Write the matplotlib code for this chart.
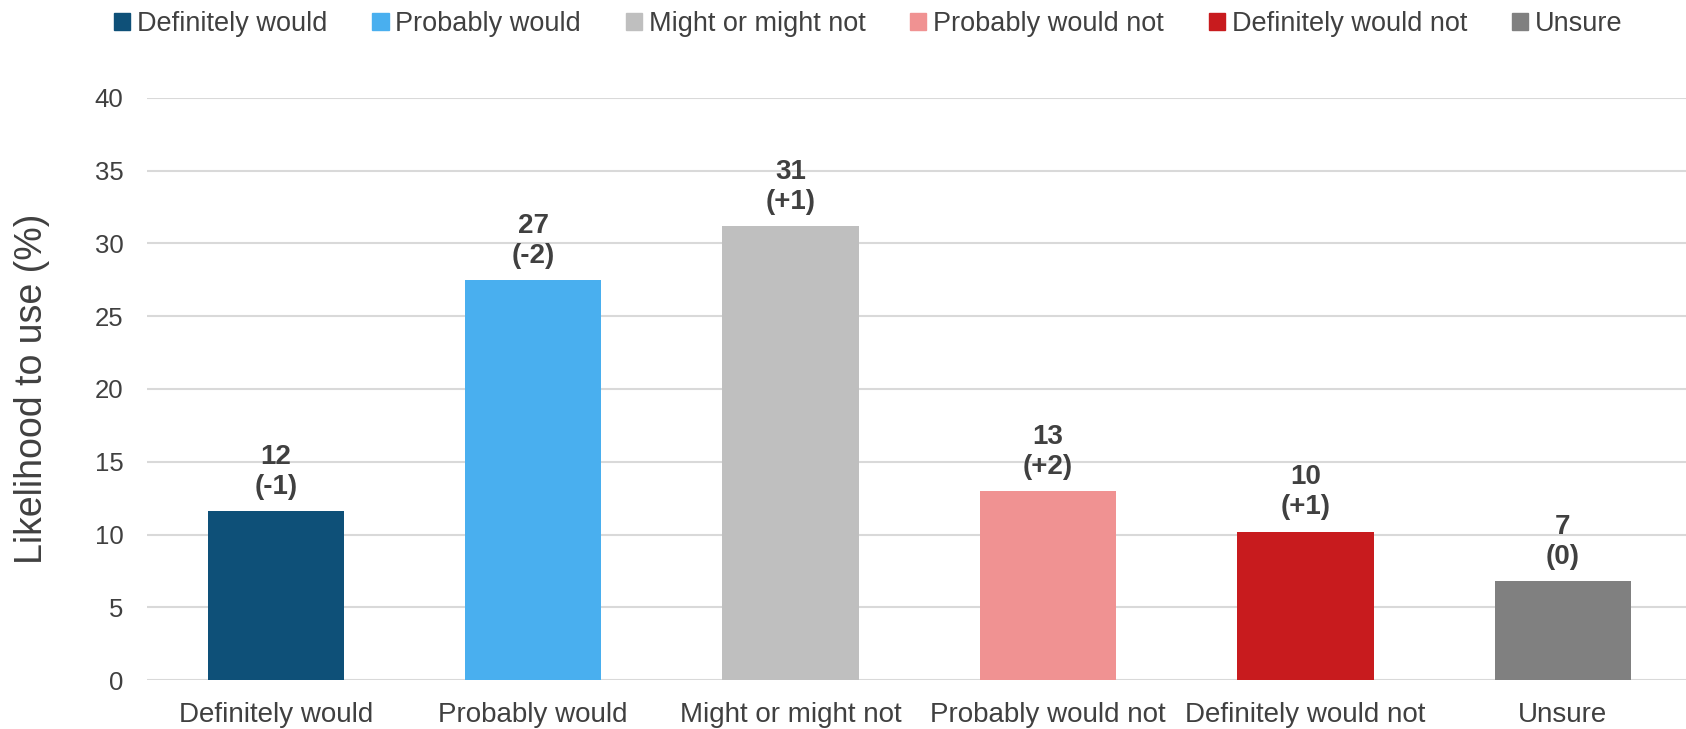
import matplotlib.pyplot as plt
from matplotlib.patches import Rectangle

# data
categories = ["Definitely would", "Probably would", "Might or might not",
              "Probably would not", "Definitely would not", "Unsure"]
values = [11.6, 27.5, 31.2, 13.0, 10.2, 6.8]
value_labels = ["12", "27", "31", "13", "10", "7"]
change_labels = ["(-1)", "(-2)", "(+1)", "(+2)", "(+1)", "(0)"]
colors = ["#0E5078", "#49AFEF", "#BFBFBF", "#F09292", "#C81B1E", "#808080"]
y_ticks = [0, 5, 10, 15, 20, 25, 30, 35, 40]

text_col = "#404040"
plt.rcParams["font.family"] = ["Liberation Sans", "DejaVu Sans"]

fig = plt.figure(figsize=(16.86, 7.29), dpi=100)
ax = fig.add_axes([0.0872, 0.0672, 0.913, 0.7984])

x = list(range(len(categories)))
ax.bar(x, values, width=0.53, color=colors, zorder=3)

# bar value labels: value on top line, change in brackets below
for xi, v, lab, ch in zip(x, values, value_labels, change_labels):
    ax.annotate(f"{lab}\n{ch}", (xi, v), xytext=(0, 8), textcoords="offset points",
                ha="center", va="bottom", fontsize=20, fontweight="bold",
                color=text_col, linespacing=1.2, zorder=4)

ax.set_xlim(-0.5, 5.48)
ax.set_ylim(0, 40)
ax.set_yticks(y_ticks)
ax.set_xticks(x)
ax.set_xticklabels(categories)
ax.tick_params(axis="x", length=0, pad=16, labelsize=20, labelcolor=text_col)
ax.tick_params(axis="y", length=0, pad=17, labelsize=18.5, labelcolor=text_col)
ax.grid(axis="y", color="#D9D9D9", linewidth=1.5, zorder=0)
for s in ax.spines.values():
    s.set_visible(False)
ax.set_ylabel("Likelihood to use (%)", fontsize=27, color=text_col, labelpad=32)

handles = [Rectangle((0, 0), 1, 1, color=c) for c in colors]
fig.legend(handles, categories, loc="upper center", bbox_to_anchor=(0.515, 1.018),
           ncol=6, frameon=False, fontsize=19.5, handlelength=0.6, handleheight=0.6,
           handletextpad=0.25, columnspacing=1.65, labelcolor=text_col)

fig.savefig("out.png", dpi=100)
